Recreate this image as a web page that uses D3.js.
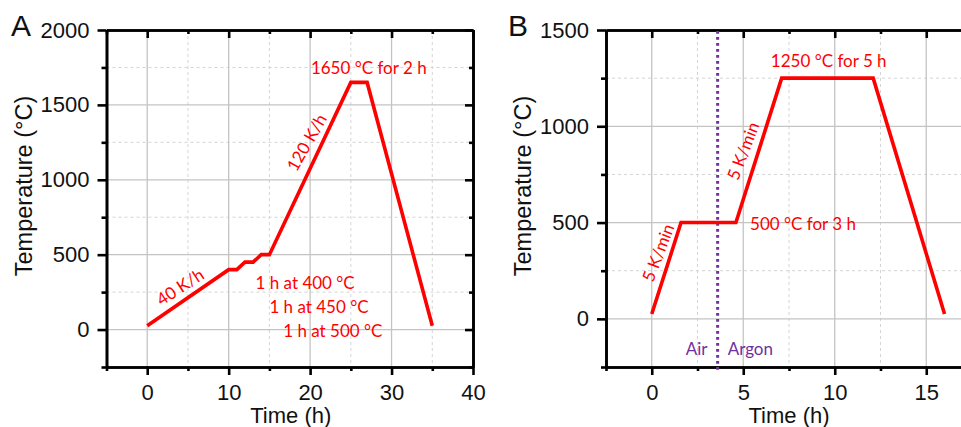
<!DOCTYPE html>
<html>
<head>
<meta charset="utf-8">
<script src="https://cdn.jsdelivr.net/npm/d3@7"></script>
<style>
  html, body { margin: 0; padding: 0; background: #fff; }
  svg { display: block; }
</style>
</head>
<body>
<svg id="chart" width="961" height="427"></svg>
<script>
// ---------- data ----------
const timeA = [0, 10, 11, 12, 13, 14, 15, 25, 27, 35];
const tempA = [25, 400, 400, 450, 450, 500, 500, 1650, 1650, 25];
const xTicksA = [0, 10, 20, 30, 40];
const xMinorA = [-5, 5, 15, 25, 35];
const yTicksA = [0, 500, 1000, 1500, 2000];
const yMinorA = [-250, 250, 750, 1250, 1750];

const timeB = [0, 1.6, 4.6, 7.1, 12.1, 16];
const tempB = [25, 500, 500, 1250, 1250, 25];
const xTicksB = [0, 5, 10, 15];
const xMinorB = [-2.5, 2.5, 7.5, 12.5, 17.5];
const yTicksB = [0, 500, 1000, 1500];
const yMinorB = [-250, 250, 750, 1250];
const gasSwitchB = [3.6];

const annotA = [
  {text: "1650 °C for 2 h", t: 27.2, T: 1708, anchor: "middle", rot: 0},
  {text: "120 K/h", t: 19.6, T: 1249, anchor: "middle", rot: -60, mid: true},
  {text: "40 K/h", t: 4.05, T: 284, anchor: "middle", rot: -33, mid: true},
  {text: "1 h at 400 °C", t: 13.3, T: 270, anchor: "start", rot: 0},
  {text: "1 h at 450 °C", t: 15.0, T: 110, anchor: "start", rot: 0},
  {text: "1 h at 500 °C", t: 16.7, T: -48, anchor: "start", rot: 0}
];
const annotB = [
  {text: "1250 °C for 5 h", t: 9.67, T: 1306, anchor: "middle", rot: 0},
  {text: "500 °C for 3 h", t: 5.37, T: 462, anchor: "start", rot: 0},
  {text: "5 K/min", t: 5.0, T: 872, anchor: "middle", rot: -69, mid: true},
  {text: "5 K/min", t: 0.36, T: 343, anchor: "middle", rot: -69, mid: true}
];
const gasLabels = [
  {text: "Air", dt: -0.55, anchor: "end"},
  {text: "Argon", dt: 0.55, anchor: "start"}
];

// ---------- drawing ----------
const svg = d3.select("#chart");
const TICK_FONT = "'Liberation Sans', Arial, sans-serif";
const ANN_FONT = "Lato, 'Open Sans', sans-serif";
const RED = "#ff0000";
const PURPLE = "#7030a0";

function panel(opts) {
  const {x0, x1, y0, y1, xDom, yDom, xTicks, xMinor, yTicks, yMinor, letter, titleX, time, temp} = opts;
  const x = d3.scaleLinear().domain(xDom).range([x0, x1]);
  const y = d3.scaleLinear().domain(yDom).range([y1, y0]);
  const g = svg.append("g");

  // minor grid (dashed)
  g.append("g").selectAll("line").data(xMinor.filter(v => v > xDom[0] && v < xDom[1]))
    .join("line").attr("x1", d => x(d)).attr("x2", d => x(d)).attr("y1", y0).attr("y2", y1)
    .attr("stroke", "#d4d4d4").attr("stroke-width", 1).attr("stroke-dasharray", "3,3");
  g.append("g").selectAll("line").data(yMinor.filter(v => v > yDom[0] && v < yDom[1]))
    .join("line").attr("y1", d => y(d)).attr("y2", d => y(d)).attr("x1", x0).attr("x2", x1)
    .attr("stroke", "#d4d4d4").attr("stroke-width", 1).attr("stroke-dasharray", "3,3");
  // major grid (solid)
  g.append("g").selectAll("line").data(xTicks.filter(v => v > xDom[0] && v < xDom[1]))
    .join("line").attr("x1", d => x(d)).attr("x2", d => x(d)).attr("y1", y0).attr("y2", y1)
    .attr("stroke", "#c4c4c4").attr("stroke-width", 1.3);
  g.append("g").selectAll("line").data(yTicks.filter(v => v > yDom[0] && v < yDom[1]))
    .join("line").attr("y1", d => y(d)).attr("y2", d => y(d)).attr("x1", x0).attr("x2", x1)
    .attr("stroke", "#c4c4c4").attr("stroke-width", 1.3);

  function styleAxis(sel, labels) {
    sel.selectAll("path.domain").attr("stroke", "#000").attr("stroke-width", 2.6);
    sel.selectAll(".tick line").attr("stroke", "#000").attr("stroke-width", 2.6);
    sel.selectAll(".tick text").attr("font-family", TICK_FONT).attr("font-size", 22).attr("fill", "#111");
    if (!labels) sel.selectAll(".tick text").remove();
  }
  // bottom
  g.append("g").attr("transform", `translate(0,${y1})`)
    .call(d3.axisBottom(x).tickValues(xMinor).tickSize(4).tickSizeOuter(0).tickFormat(""))
    .call(s => styleAxis(s, false));
  g.append("g").attr("transform", `translate(0,${y1})`)
    .call(d3.axisBottom(x).tickValues(xTicks).tickSize(8).tickSizeOuter(0).tickPadding(9).tickFormat(d3.format("d")))
    .call(s => styleAxis(s, true));
  // top (inward)
  g.append("g").attr("transform", `translate(0,${y0})`)
    .call(d3.axisTop(x).tickValues(xMinor).tickSize(-4).tickSizeOuter(0).tickFormat(""))
    .call(s => styleAxis(s, false));
  g.append("g").attr("transform", `translate(0,${y0})`)
    .call(d3.axisTop(x).tickValues(xTicks).tickSize(-8).tickSizeOuter(0).tickFormat(""))
    .call(s => styleAxis(s, false));
  // left
  g.append("g").attr("transform", `translate(${x0},0)`)
    .call(d3.axisLeft(y).tickValues(yMinor).tickSize(5).tickSizeOuter(0).tickFormat(""))
    .call(s => styleAxis(s, false));
  g.append("g").attr("transform", `translate(${x0},0)`)
    .call(d3.axisLeft(y).tickValues(yTicks).tickSize(9).tickSizeOuter(0).tickPadding(8).tickFormat(d3.format("d")))
    .call(s => styleAxis(s, true));
  // right (inward)
  g.append("g").attr("transform", `translate(${x1},0)`)
    .call(d3.axisRight(y).tickValues(yMinor).tickSize(-4).tickSizeOuter(0).tickFormat(""))
    .call(s => styleAxis(s, false));
  g.append("g").attr("transform", `translate(${x1},0)`)
    .call(d3.axisRight(y).tickValues(yTicks).tickSize(-8).tickSizeOuter(0).tickFormat(""))
    .call(s => styleAxis(s, false));

  // axis titles
  g.append("text").attr("x", (x0 + x1) / 2 + opts.xTitleShift).attr("y", 423)
    .attr("text-anchor", "middle").attr("font-family", TICK_FONT).attr("font-size", 22).attr("fill", "#111")
    .text("Time (h)");
  g.append("text").attr("transform", `translate(${titleX},186) rotate(-90)`)
    .attr("text-anchor", "middle").attr("font-family", TICK_FONT).attr("font-size", 23.5).attr("fill", "#111")
    .text("Temperature (°C)");
  // panel letter
  g.append("text").attr("x", opts.letterX).attr("y", 36)
    .attr("font-family", TICK_FONT).attr("font-size", 30).attr("fill", "#111").text(letter);

  const pts = time.map((t, i) => [t, temp[i]]);
  return {g, x, y, pts};
}

function annotate(p, list) {
  p.g.append("g").selectAll("text").data(list).join("text")
    .attr("transform", d => `translate(${p.x(d.t)},${p.y(d.T)}) rotate(${d.rot})`)
    .attr("text-anchor", d => d.anchor)
    .attr("dy", d => d.mid ? "0.35em" : 0)
    .attr("font-family", ANN_FONT).attr("font-size", 17).attr("fill", RED)
    .text(d => d.text);
}

const line = (p) => d3.line().x(d => p.x(d[0])).y(d => p.y(d[1]));

// Panel A
const pA = panel({x0: 106.5, x1: 473, y0: 30, y1: 367, xDom: [-5, 40], yDom: [-250, 2000],
  xTicks: xTicksA, xMinor: xMinorA, yTicks: yTicksA, yMinor: yMinorA, letter: "A",
  letterX: 11, titleX: 32, xTitleShift: 1, time: timeA, temp: tempA});
pA.g.append("path").datum(pA.pts).attr("d", line(pA))
  .attr("fill", "none").attr("stroke", RED).attr("stroke-width", 3.6).attr("stroke-linejoin", "miter");
annotate(pA, annotA);

// Panel B
const pB = panel({x0: 606, x1: 972, y0: 30, y1: 367, xDom: [-2.5, 17.5], yDom: [-250, 1500],
  xTicks: xTicksB, xMinor: xMinorB, yTicks: yTicksB, yMinor: yMinorB, letter: "B",
  letterX: 508, titleX: 531, xTitleShift: 0, time: timeB, temp: tempB});
pB.g.append("g").selectAll("line").data(gasSwitchB).join("line")
  .attr("x1", d => pB.x(d)).attr("x2", d => pB.x(d)).attr("y1", 31).attr("y2", 371)
  .attr("stroke", PURPLE).attr("stroke-width", 3).attr("stroke-dasharray", "2.7,3.3");
pB.g.append("path").datum(pB.pts).attr("d", line(pB))
  .attr("fill", "none").attr("stroke", RED).attr("stroke-width", 3.6).attr("stroke-linejoin", "miter");
annotate(pB, annotB);
pB.g.append("g").selectAll("text").data(gasLabels).join("text")
  .attr("x", d => pB.x(gasSwitchB[0] + d.dt)).attr("y", pB.y(-186))
  .attr("text-anchor", d => d.anchor)
  .attr("font-family", ANN_FONT).attr("font-size", 17).attr("fill", PURPLE)
  .text(d => d.text);
</script>
</body>
</html>
